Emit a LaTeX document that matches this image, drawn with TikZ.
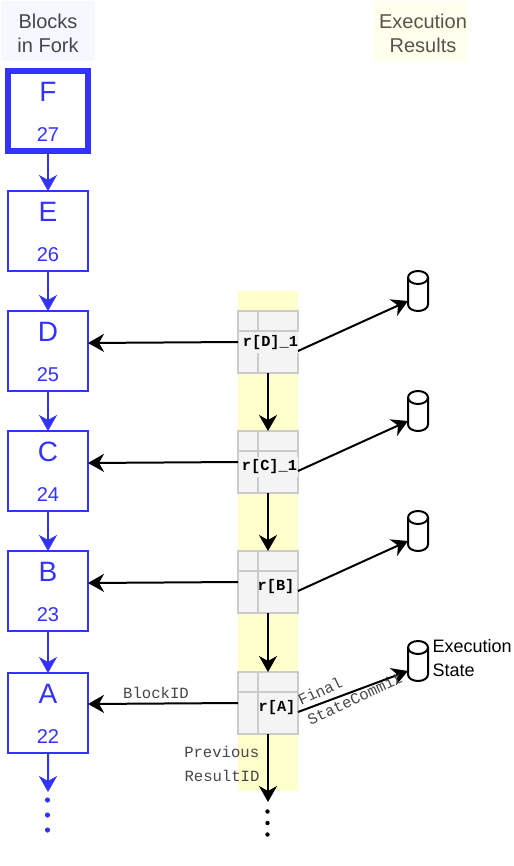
\documentclass[tikz,border=0pt]{standalone}
\usepackage{fontspec}
\setmainfont{Liberation Sans}
\setmonofont{Liberation Mono}
\usetikzlibrary{arrows.meta}
\definecolor{blk}{HTML}{3333FF}
\definecolor{yel}{HTML}{FFFFCC}
\definecolor{headA}{HTML}{F5F8FF}
\definecolor{headB}{HTML}{FFFFEE}
\definecolor{cellg}{HTML}{F4F4F4}
\definecolor{cellb}{HTML}{CBCBCB}
\definecolor{headtxtA}{HTML}{43464D}
\definecolor{headtxtB}{HTML}{55554A}
\newcommand{\fsz}[2]{\fontsize{#1}{#2}\selectfont}
\tikzset{
  x=1bp,y=-1bp,
  every node/.style={inner sep=0pt,outer sep=0pt},
  tip/.style={-{Stealth[length=16bp,width=18bp,inset=5bp]}},
  blockbox/.style={draw=blk,line width=2bp,fill=white,minimum width=80bp,minimum height=80bp,anchor=north west},
  blockthick/.style={blockbox,line width=6bp},
  letter/.style={text=blk,font=\fsz{28bp}{28bp}},
  num/.style={text=blk,font=\fsz{20bp}{20bp}},
  bconn/.style={draw=blk,line width=2bp,tip},
  rconn/.style={draw=black,line width=2bp,tip},
  header/.style={align=center,font=\fsz{20bp}{24bp}},
  cellbox/.style={draw=cellb,fill=cellg,line width=2bp,minimum width=60bp,minimum height=62bp,anchor=north west},
  resid/.style={font=\ttfamily\bfseries\fsz{15.3bp}{16bp}},
  residbg/.style={resid,fill=cellg,inner xsep=0.5bp,inner ysep=3bp},
  mono/.style={font=\ttfamily\fsz{15.6bp}{16bp},text=black!72},
  cyl/.style={draw=black,line width=2bp,fill=white},
  bdot/.style={circle,fill=blk,minimum size=5.2bp},
  kdot/.style={circle,fill=black,minimum size=4.4bp},
}
\newcommand{\blockat}[5]{% name, style, y, letter, number
  \node[#2] (#1) at (8,#3) {};
  \node[letter] (#1L) at (48,#3+21) {#4};
  \node[num] (#1N) at (48,#3+64) {#5};
}
\newcommand{\tableat}[2]{% name, y
  \node[cellbox] (#1) at (238,#2) {};
  \draw[cellb,line width=2bp] (258,#2) -- (258,#2+62) (238,#2+20) -- (298,#2+20);
}
\newcommand{\cylat}[2]{% name, y top
  \draw[cyl] (408,#2+6.5) arc[start angle=180,end angle=0,x radius=10,y radius=-6.5]
     -- (428,#2+33.5) arc[start angle=0,end angle=180,x radius=10,y radius=6.5] -- cycle;
  \draw[cyl,fill=none] (408,#2+6.5) arc[start angle=180,end angle=0,x radius=10,y radius=6.5];
  \coordinate (#1) at (408,#2+30);
}
\begin{document}
\begin{tikzpicture}
\useasboundingbox (0,0) rectangle (514,866);
\fill[white] (0,0) rectangle (514,866);
% headers
\fill[headA] (1,1) rectangle (95,61);
\fill[headB] (374,1) rectangle (468,61);
\node[header,text=headtxtA] (h1) at (48,33) {Blocks\\in Fork};
\node[header,text=headtxtB] (h2) at (423,33) {Execution\\Results};
% yellow band
\fill[yel] (238,291) rectangle (298,791);
% blocks
\blockat{F}{blockthick}{71}{F}{27}
\blockat{E}{blockbox}{191}{E}{26}
\blockat{D}{blockbox}{311}{D}{25}
\blockat{C}{blockbox}{431}{C}{24}
\blockat{B}{blockbox}{551}{B}{23}
\blockat{A}{blockbox}{673}{A}{22}
\foreach \a/\b in {F/E,E/D,D/C,C/B,B/A}{\draw[bconn] (\a.south) -- (\b.north);}
\coordinate (Aend) at (48,792);
\draw[bconn] (A.south) -- (Aend);
\node[bdot] (d1) at (47.5,800) {};
\node[bdot] (d2) at (47.5,815) {};
\node[bdot] (d3) at (47.5,830) {};
% result tables
\tableat{TD}{311}
\tableat{TC}{431}
\tableat{TB}{551}
\tableat{TA}{672}
\node[residbg] (LD) at (270.5,342.5) {r[D]\_1};
\node[residbg] (LC) at (269.5,467) {r[C]\_1};
\node[resid] (LB) at (276,587) {r[B]};
\node[resid] (LA) at (277,707.5) {r[A]};
% cylinders
\cylat{CD}{271}
\cylat{CC}{391}
\cylat{CB}{511}
\cylat{CA}{641}
% connectors: to blocks
\draw[rconn] (238,342) -- (D.east |- 0,343);
\draw[rconn] (238,462) -- (C.east |- 0,463);
\draw[rconn] (238,582) -- (B.east |- 0,583);
\draw[rconn] (238,703) -- (A.east |- 0,704);
% down
\draw[rconn] (TD.south -| 268,0) -- (TC.north -| 268,0);
\draw[rconn] (TC.south -| 268,0) -- (TB.north -| 268,0);
\draw[rconn] (TB.south -| 268,0) -- (TA.north -| 268,0);
\coordinate (Tend) at (268,802);
\draw[rconn] (TA.south -| 268,0) -- (Tend);
\node[kdot] (k1) at (267.5,811.5) {};
\node[kdot] (k2) at (267.5,823) {};
\node[kdot] (k3) at (267.5,834.5) {};
% right
\draw[rconn] (298,351) -- (CD);
\draw[rconn] (298,471) -- (CC);
\draw[rconn] (298,591) -- (CB);
\draw[rconn] (298,712) -- (CA);
% labels
\node[mono] (bid) at (156,693) {BlockID};
\node[mono] (prev) at (221.7,752) {Previous};
\node[mono] (rid) at (222,776) {ResultID};
\node[mono,rotate=25] (fin) at (320,691) {Final};
\node[mono,rotate=25] (sc) at (355,698.5) {StateCommit};
\node[font=\fsz{18bp}{24bp},text=black,align=left,anchor=west] (es) at (432.5,658) {Execution\\State};
\end{tikzpicture}
\end{document}
